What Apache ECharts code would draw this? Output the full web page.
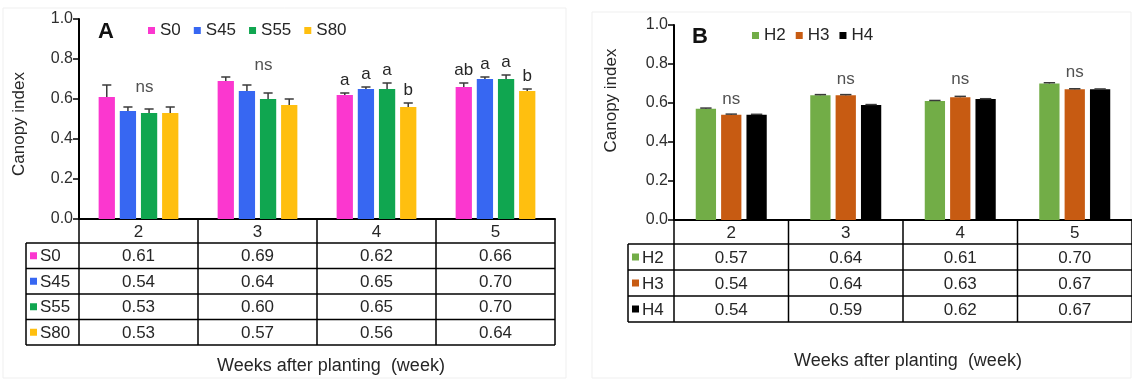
<!DOCTYPE html>
<html>
<head>
<meta charset="utf-8">
<script src="https://cdn.jsdelivr.net/npm/echarts@6/dist/echarts.min.js"></script>
<style>
  html, body { margin: 0; padding: 0; background: #fff; }
  #main { width: 1132px; height: 380px; }
</style>
</head>
<body>
<div id="main"></div>
<script>
// weeks after planting
const weeks = ['2', '3', '4', '5'];

// panel A
const namesA = ['S0', 'S45', 'S55', 'S80'];
const meansA = [
    [0.61, 0.69, 0.62, 0.66],
    [0.54, 0.64, 0.65, 0.70],
    [0.53, 0.60, 0.65, 0.70],
    [0.53, 0.57, 0.56, 0.64]
];
const errorsA = [
    [0.06, 0.02, 0.01, 0.02],
    [0.02, 0.03, 0.01, 0.01],
    [0.02, 0.03, 0.03, 0.02],
    [0.03, 0.03, 0.02, 0.01]
];
const lettersA = [
    ['', '', 'a', 'ab'],
    ['', '', 'a', 'a'],
    ['', '', 'a', 'a'],
    ['', '', 'b', 'b']
];
const nsA = [[0, 0.66, 'ns'], [1, 0.77, 'ns']];

// panel B
const namesB = ['H2', 'H3', 'H4'];
const meansB = [
    [0.57, 0.64, 0.61, 0.70],
    [0.54, 0.64, 0.63, 0.67],
    [0.54, 0.59, 0.62, 0.67]
];
const errorsB = [
    [0.004, 0.003, 0.003, 0.004],
    [0.003, 0.003, 0.004, 0.003],
    [0.002, 0.002, 0.002, 0.002]
];
const nsB = [[0, 0.62, 'ns'], [1, 0.72, 'ns'], [2, 0.72, 'ns'], [3, 0.755, 'ns']];

// styles
const colorsA = ['#fb37cf', '#3767f2', '#10a650', '#ffbf0f'];
const colorsB = ['#72ad47', '#c75b12', '#000000'];
const FONT = '"Liberation Sans", Arial, sans-serif';
const TXT = '#262626';

const chart = echarts.init(document.getElementById('main'));

function yAxis(gi, gap, pad) {
    return {
        type: 'value', gridIndex: gi, min: 0, max: 1, interval: 0.2,
        name: 'Canopy index', nameLocation: 'middle', nameGap: gap,
        nameTextStyle: { fontSize: 17, color: TXT, fontFamily: FONT, padding: pad },
        axisLine: { show: true, lineStyle: { color: '#000', width: 2 } },
        axisTick: { show: true, length: 6, lineStyle: { color: '#000', width: 1.5 } },
        axisLabel: { fontSize: 16, color: '#2e2e2e', fontFamily: FONT, margin: 6, formatter: v => v.toFixed(1) },
        splitLine: { show: false }
    };
}

function xAxis(gi) {
    return {
        type: 'category', gridIndex: gi, data: weeks,
        axisLine: { lineStyle: { color: '#000', width: 2 } },
        axisTick: { show: false },
        axisLabel: { show: false }
    };
}

function barSeries(gi, names, means, colors, gap, catGap) {
    return names.map((n, i) => ({
        type: 'bar', name: n, xAxisIndex: gi, yAxisIndex: gi,
        data: means[i],
        barGap: gap * 100 + '%', barCategoryGap: catGap * 100 + '%',
        itemStyle: { color: colors[i] },
        z: 2
    }));
}

// error bars (upper half) + significance letters
function errSeries(gi, names, means, errors, letters, gap, catGap) {
    const n = names.length;
    return names.map((nm, si) => ({
        type: 'custom', name: nm + '-err', xAxisIndex: gi, yAxisIndex: gi,
        silent: true, z: 5,
        data: means[si].map((m, i) => [i, m, errors[si][i]]),
        renderItem(params, api) {
            const band = api.size([1, 0])[0];
            const avail = band * (1 - catGap);
            const w = avail / (n + (n - 1) * gap);
            const cx = api.coord([api.value(0), 0])[0] - avail / 2 + si * w * (1 + gap) + w / 2;
            const yB = api.coord([0, api.value(1)])[1];
            const yT = api.coord([0, api.value(1) + api.value(2)])[1];
            const h = w * 0.28;
            const st = { stroke: '#3a3a3a', lineWidth: 1.5 };
            const children = [
                { type: 'line', shape: { x1: cx, y1: yB, x2: cx, y2: yT }, style: st },
                { type: 'line', shape: { x1: cx - h, y1: yT, x2: cx + h, y2: yT }, style: st }
            ];
            const lt = letters ? letters[si][params.dataIndex] : '';
            if (lt) {
                children.push({
                    type: 'text',
                    style: {
                        text: lt, x: cx, y: yT - 4,
                        textAlign: 'center', textVerticalAlign: 'bottom',
                        align: 'center', verticalAlign: 'bottom',
                        font: '17px ' + FONT, fill: TXT
                    }
                });
            }
            return { type: 'group', children };
        }
    }));
}

function nsSeries(gi, data, dx) {
    return {
        type: 'scatter', xAxisIndex: gi, yAxisIndex: gi, silent: true,
        data: data, symbolSize: 1, itemStyle: { color: 'rgba(0,0,0,0)' },
        label: {
            show: true, position: 'inside', offset: [dx, 0],
            formatter: p => p.data[2],
            fontSize: 17, color: TXT, fontFamily: FONT
        },
        z: 6
    };
}

const legendBase = {
    icon: 'rect', itemWidth: 7, itemHeight: 7,
    textStyle: { fontSize: 17, color: TXT, fontFamily: FONT }
};

chart.setOption({
    animation: false,
    backgroundColor: '#fff',
    grid: [
        { left: 79, top: 19, width: 476, height: 200 },
        { left: 674, top: 25, width: 458, height: 195 }
    ],
    legend: [
        Object.assign({ data: namesA, left: 143, top: 17, itemGap: 13 }, legendBase),
        Object.assign({ data: namesB, left: 747, top: 22, itemGap: 10 }, legendBase)
    ],
    xAxis: [xAxis(0), xAxis(1)],
    yAxis: [yAxis(0, 51, [0, 10, 0, 0]), yAxis(1, 54, [0, 0, 0, 44])],
    series: [].concat(
        barSeries(0, namesA, meansA, colorsA, 0.3, 0.33),
        barSeries(1, namesB, meansB, colorsB, 0.25, 0.38),
        errSeries(0, namesA, meansA, errorsA, lettersA, 0.3, 0.33),
        errSeries(1, namesB, meansB, errorsB, null, 0.25, 0.38),
        [nsSeries(0, nsA, 6), nsSeries(1, nsB, 0)]
    )
});

// data table under each chart, aligned with the category bands
function txt(text, x, y, size, opts) {
    return {
        type: 'text', silent: true,
        style: Object.assign({
            text, x, y, font: size + 'px ' + FONT, fill: TXT,
            textAlign: 'center', textVerticalAlign: 'middle',
            align: 'center', verticalAlign: 'middle'
        }, opts || {})
    };
}
function line(x1, y1, x2, y2) {
    return { type: 'line', silent: true, shape: { x1, y1, x2, y2 }, style: { stroke: '#000', lineWidth: 1.5 } };
}

function table(gi, names, means, colors, labelLeft, headerH, rowH) {
    const c0 = chart.convertToPixel({ xAxisIndex: gi }, 0);
    const band = chart.convertToPixel({ xAxisIndex: gi }, 1) - c0;
    const x0 = c0 - band / 2;
    const xEnd = x0 + band * weeks.length;
    const top = chart.convertToPixel({ yAxisIndex: gi }, 0);
    const bottom = top + headerH + rowH * names.length;
    const els = [];
    weeks.forEach((w, k) => els.push(txt(w, c0 + k * band, top + headerH / 2 + 1, 17)));
    for (let k = 0; k <= weeks.length; k++) {
        els.push(line(x0 + k * band, top, x0 + k * band, bottom));
    }
    for (let r = 0; r <= names.length; r++) {
        const y = top + headerH + r * rowH;
        els.push(line(labelLeft, y, xEnd, y));
    }
    els.push(line(labelLeft, top + headerH, labelLeft, bottom));
    names.forEach((nm, i) => {
        const yc = top + headerH + rowH * (i + 0.5);
        els.push({ type: 'rect', silent: true, shape: { x: labelLeft + 4, y: yc - 3.5, width: 7, height: 7 }, style: { fill: colors[i] } });
        els.push(txt(nm, labelLeft + 14, yc + 1, 17, { textAlign: 'left', align: 'left' }));
        means[i].forEach((v, k) => els.push(txt(v.toFixed(2), c0 + k * band, yc + 1, 17)));
    });
    return els;
}

const graphics = [
    { type: 'rect', silent: true, z: -10, shape: { x: 3, y: 8, width: 563, height: 370 }, style: { fill: 'none', stroke: '#efefef', lineWidth: 1 } },
    { type: 'rect', silent: true, z: -10, shape: { x: 592, y: 12, width: 539, height: 366 }, style: { fill: 'none', stroke: '#efefef', lineWidth: 1 } },
    txt('A', 106, 32, 22, { font: 'bold 22px ' + FONT, fill: '#111' }),
    txt('B', 700, 37, 22, { font: 'bold 22px ' + FONT, fill: '#111' }),
    txt('Weeks after planting  (week)', 331, 366, 18),
    txt('Weeks after planting  (week)', 908, 361, 18)
].concat(
    table(0, namesA, meansA, colorsA, 26, 24, 25.5),
    table(1, namesB, meansB, colorsB, 628, 24, 26)
);

chart.setOption({ graphic: graphics });
</script>
</body>
</html>
